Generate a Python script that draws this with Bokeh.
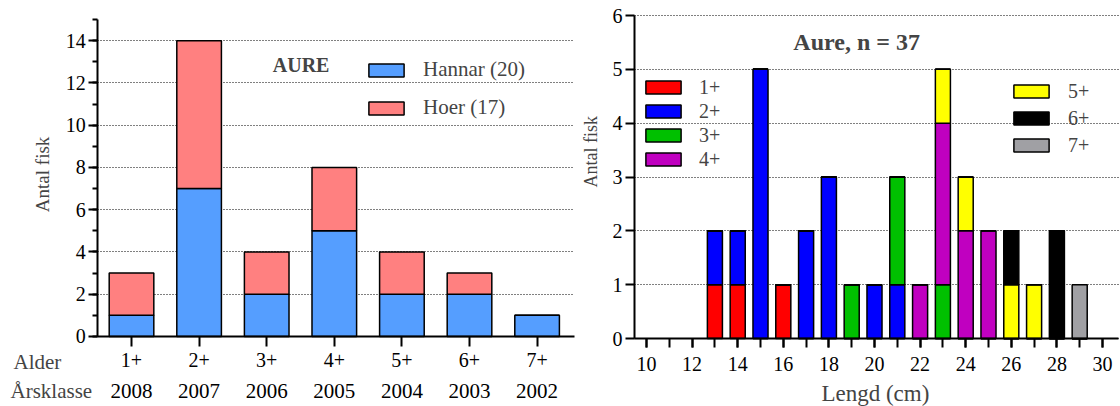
import math

from bokeh.core.properties import value
from bokeh.embed import file_html
from bokeh.layouts import row
from bokeh.models import (BoxAnnotation, ColumnDataSource, FixedTicker, Label, LabelSet,
                          Legend, LegendItem, Range1d, SingleIntervalTicker)
from bokeh.plotting import figure
from bokeh.resources import INLINE

# ---- Age distribution (left panel) ----
ages = ["1+", "2+", "3+", "4+", "5+", "6+", "7+"]
year_classes = ["2008", "2007", "2006", "2005", "2004", "2003", "2002"]
hannar = [1, 7, 2, 5, 2, 2, 1]
hoer = [2, 7, 2, 3, 2, 1, 0]

# ---- Length distribution per age class (right panel) ----
lengths = [13, 14, 15, 16, 17, 18, 19, 20, 21, 22, 23, 24, 25, 26, 27, 28, 29]
age_1 = [1, 1, 0, 1, 0, 0, 0, 0, 0, 0, 0, 0, 0, 0, 0, 0, 0]
age_2 = [1, 1, 5, 0, 2, 3, 0, 1, 1, 0, 0, 0, 0, 0, 0, 0, 0]
age_3 = [0, 0, 0, 0, 0, 0, 1, 0, 2, 0, 1, 0, 0, 0, 0, 0, 0]
age_4 = [0, 0, 0, 0, 0, 0, 0, 0, 0, 1, 3, 2, 2, 0, 0, 0, 0]
age_5 = [0, 0, 0, 0, 0, 0, 0, 0, 0, 0, 1, 1, 0, 1, 1, 0, 0]
age_6 = [0, 0, 0, 0, 0, 0, 0, 0, 0, 0, 0, 0, 0, 1, 0, 2, 0]
age_7 = [0, 0, 0, 0, 0, 0, 0, 0, 0, 0, 0, 0, 0, 0, 0, 0, 1]

FONT = "Liberation Serif"
BLUE = "#559EFF"
PINK = "#FF8080"
AGE_COLORS = ["#FF0000", "#0000FF", "#00C000", "#C000C0", "#FFFF00", "#000000", "#A0A0A4"]


def style_axes(p, x_bounds, y_bounds):
    # axes sit at fixed data positions so that the whole canvas is plot area
    p.xaxis.fixed_location = y_bounds[0]
    p.xaxis.bounds = x_bounds
    p.yaxis.fixed_location = x_bounds[0]
    p.yaxis.bounds = y_bounds
    for ax in p.axis:
        ax.axis_line_width = 2
        ax.axis_line_color = "black"
        ax.major_tick_line_width = 2
        ax.minor_tick_line_width = 2
        ax.major_tick_line_color = "black"
        ax.minor_tick_line_color = "black"
        ax.major_tick_in = 0
        ax.minor_tick_in = 0
        ax.major_label_text_font = FONT
        ax.major_label_text_font_size = "20px"
        ax.major_label_text_color = "black"
    p.xgrid.visible = False
    p.ygrid.grid_line_color = "black"
    p.ygrid.grid_line_dash = "1 2"
    p.ygrid.grid_line_width = 1
    try:
        p.ygrid.cross_bounds = x_bounds
    except AttributeError:
        p.add_layout(BoxAnnotation(right=x_bounds[0], fill_color="white", fill_alpha=1,
                                   line_alpha=0, level="underlay"))
        p.add_layout(BoxAnnotation(left=x_bounds[1], fill_color="white", fill_alpha=1,
                                   line_alpha=0, level="underlay"))
    p.outline_line_color = None
    p.background_fill_color = "white"
    p.border_fill_color = "white"
    p.min_border = 0


# ================= left: fish per age class, by sex =================
p1 = figure(width=580, height=406, x_range=Range1d(-0.938, 7.642),
            y_range=Range1d(-3.313, 15.9), output_backend="svg", toolbar_location=None)
style_axes(p1, (0.5, 7.55), (0, 15))

src1 = ColumnDataSource(dict(x=list(range(1, len(ages) + 1)), Hannar=hannar, Hoer=hoer,
                             year=year_classes))
sex_bars = p1.vbar_stack(["Hannar", "Hoer"], x="x", width=0.66, source=src1,
                         fill_color=[BLUE, PINK], line_color="black", line_width=1.5)

p1.xaxis.ticker = FixedTicker(ticks=list(range(1, len(ages) + 1)))
p1.xaxis.major_label_overrides = {i + 1: a for i, a in enumerate(ages)}
p1.xaxis.minor_tick_line_color = None
p1.xaxis.major_tick_out = 10
p1.xaxis.major_label_standoff = 7

p1.yaxis.ticker = SingleIntervalTicker(interval=2, num_minor_ticks=2)
p1.yaxis.major_tick_out = 9
p1.yaxis.minor_tick_out = 5
p1.yaxis.major_label_standoff = 3

p1.add_layout(LabelSet(x="x", y=-2.56, text="year", source=src1, text_align="center",
                       text_baseline="middle", text_font=value(FONT),
                       text_font_size="21px", text_color="black"))
p1.add_layout(Label(x=-0.745, y=-1.23, text="Alder", text_align="left",
                    text_baseline="middle", text_font=FONT, text_font_size="21px"))
p1.add_layout(Label(x=-0.79, y=-2.56, text="Årsklasse", text_align="left",
                    text_baseline="middle", text_font=FONT, text_font_size="21px"))
p1.add_layout(Label(x=-0.315, y=7.67, text="Antal fisk", angle=math.pi / 2,
                    text_align="center", text_baseline="middle", text_font=FONT,
                    text_font_size="19px"))
p1.add_layout(Label(x=3.09, y=12.83, text="AURE", text_align="left",
                    text_baseline="middle", text_font=FONT, text_font_size="20px",
                    text_font_style="bold"))

leg1 = Legend(items=[LegendItem(label="Hannar (20)", renderers=[sex_bars[0]]),
                     LegendItem(label="Hoer (17)", renderers=[sex_bars[1]])],
              location=(364, 286), orientation="vertical", padding=0, margin=0,
              spacing=13, glyph_width=44, glyph_height=16, label_height=24,
              label_standoff=15, label_text_font=FONT, label_text_font_size="21px",
              border_line_color=None, background_fill_alpha=0)
p1.add_layout(leg1)

# ================= right: length distribution by age class =================
p2 = figure(width=540, height=406, x_range=Range1d(7.105, 30.79),
            y_range=Range1d(-1.263, 6.279), output_backend="svg", toolbar_location=None)
style_axes(p2, (9.47, 30.7), (0, 6))

src2 = ColumnDataSource(dict(x=lengths, a1=age_1, a2=age_2, a3=age_3, a4=age_4,
                             a5=age_5, a6=age_6, a7=age_7))
age_bars = p2.vbar_stack(["a1", "a2", "a3", "a4", "a5", "a6", "a7"], x="x", width=0.66,
                         source=src2, fill_color=AGE_COLORS, line_color="black",
                         line_width=1.5)

p2.xaxis.ticker = SingleIntervalTicker(interval=2, num_minor_ticks=2)
p2.xaxis.major_tick_out = 9
p2.xaxis.minor_tick_out = 9
p2.xaxis.major_label_standoff = 9

p2.yaxis.ticker = SingleIntervalTicker(interval=1, num_minor_ticks=0)
p2.yaxis.major_tick_out = 9
p2.yaxis.major_label_standoff = 3

p2.add_layout(Label(x=20.04, y=-1.02, text="Lengd (cm)", text_align="center",
                    text_baseline="middle", text_font=FONT, text_font_size="23px"))
p2.add_layout(Label(x=7.544, y=3.47, text="Antal fisk", angle=math.pi / 2,
                    text_align="center", text_baseline="middle", text_font=FONT,
                    text_font_size="18px"))
p2.add_layout(Label(x=16.44, y=5.5, text="Aure, n = 37", text_align="left",
                    text_baseline="middle", text_font=FONT, text_font_size="24px",
                    text_font_style="bold"))

common = dict(orientation="vertical", padding=0, margin=0, glyph_width=44, glyph_height=16,
              label_height=24, label_text_font=FONT, label_text_font_size="20px",
              border_line_color=None, background_fill_alpha=0)
leg2 = Legend(items=[LegendItem(label=ages[i], renderers=[age_bars[i]]) for i in range(4)],
              location=(61, 235), spacing=0, label_standoff=14, **common)
leg3 = Legend(items=[LegendItem(label=ages[i], renderers=[age_bars[i]]) for i in range(4, 7)],
              location=(429, 249), spacing=3, label_standoff=15, **common)
p2.add_layout(leg2)
p2.add_layout(leg3)

layout = row(p1, p2)
open("out.html", "w").write(file_html(layout, INLINE))
